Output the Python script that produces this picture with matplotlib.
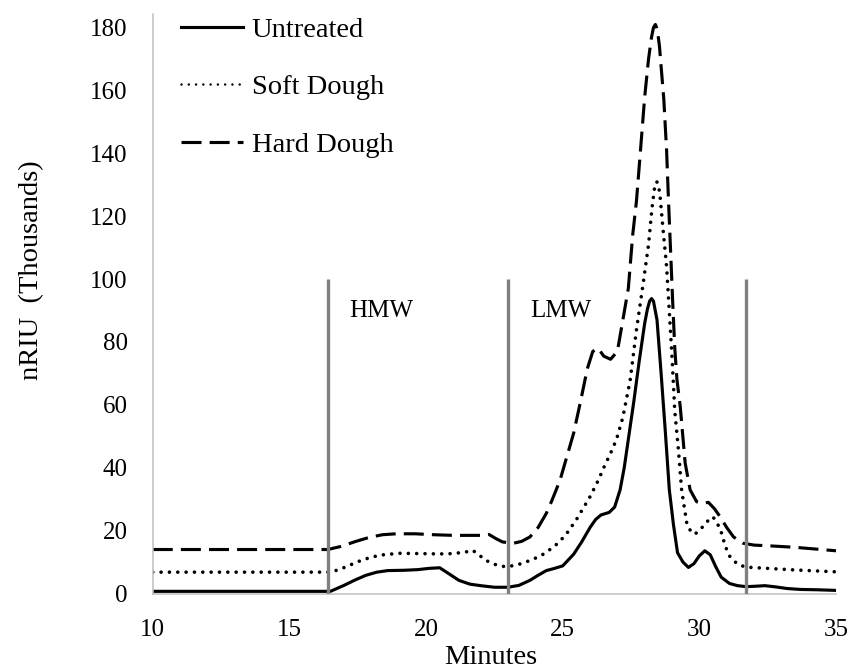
import numpy as np
import matplotlib
matplotlib.use("Agg")
import matplotlib.pyplot as plt
from matplotlib.lines import Line2D

plt.rcParams['font.family'] = ['Liberation Serif', 'DejaVu Serif']

# Untreated (solid)
untreated_x = [10, 12, 14, 16, 16.5, 17.0, 17.4, 17.8, 18.2, 18.6, 19.2, 19.7, 20.1, 20.5,
               20.8, 21.2, 21.6, 22.0, 22.5, 23.0, 23.4, 23.8, 24.1, 24.4, 24.7, 25.0, 25.4,
               25.7, 26.0, 26.2, 26.4, 26.7, 26.9, 27.1, 27.25, 27.4, 27.6, 27.8, 28.0, 28.1,
               28.18, 28.25, 28.32, 28.45, 28.6, 28.75, 28.9, 29.05, 29.2, 29.4, 29.6, 29.8,
               30.0, 30.2, 30.4, 30.6, 30.8, 31.1, 31.4, 31.7, 32.0, 32.4, 32.8, 33.2, 33.7,
               34.3, 35.0]
untreated_y = [0.7, 0.7, 0.7, 0.7, 0.7, 2.6, 4.3, 5.8, 6.8, 7.3, 7.4, 7.6, 8.0, 8.2,
               6.5, 4.2, 3.0, 2.5, 2.0, 2.0, 2.6, 4.2, 5.8, 7.3, 8.0, 8.8, 12.5,
               16.5, 21, 23.5, 25, 25.8, 27.5, 33, 40, 49, 61, 74, 86, 90.5,
               93, 93.8, 93, 87, 70, 52, 33, 22, 13, 10, 8.3, 9.5,
               12, 13.6, 12.3, 8.5, 5.2, 3.2, 2.5, 2.2, 2.3, 2.5, 2.1, 1.6, 1.3,
               1.2, 1.0]

# Soft Dough (dotted)
soft_x = [10, 13, 16.4, 16.8, 17.2, 17.7, 18.3, 19.0, 19.8, 20.5, 21.0, 21.5, 21.7, 21.9,
          22.2, 22.5, 22.9, 23.3, 23.8, 24.2, 24.7, 25.1, 25.5, 26.0, 26.3, 26.5, 26.85,
          27.0, 27.2, 27.47, 27.7, 27.95, 28.14, 28.26, 28.35, 28.44, 28.5, 28.56, 28.68,
          28.8, 28.87, 29.0, 29.1, 29.23, 29.35, 29.54, 29.7, 29.84, 30.05, 30.27, 30.5,
          30.76, 30.95, 31.12, 31.4, 31.7, 32.5, 33.5, 35.0]
soft_y = [6.8, 6.8, 6.8, 7.5, 9.0, 10.8, 12.2, 12.8, 12.7, 12.6, 12.7, 13.3, 13.8, 12.5,
          10.5, 9.3, 8.5, 9.0, 10.5, 12.0, 15, 18.5, 23.5, 30.8, 36, 40, 46.5,
          50, 56, 68, 84, 99, 111, 122, 128.5, 131, 130, 126.5, 115,
          104, 94, 75, 58, 46, 33, 22.3, 19.5, 18.9, 20.5, 22.8, 24.4,
          20.7, 15, 11.7, 9.3, 8.4, 8.0, 7.5, 6.9]

# Hard Dough (dashed)
hard_x = [10, 13, 16.4, 16.9, 17.4, 17.9, 18.4, 18.9, 19.6, 20.3, 21.0, 21.6, 22.1, 22.3,
          22.55, 22.8, 23.2, 23.5, 23.8, 24.1, 24.4, 24.6, 24.9, 25.15, 25.4, 25.65, 25.9,
          26.1, 26.3, 26.5, 26.75, 27.0, 27.2, 27.4, 27.56, 27.7, 27.8, 27.9, 28.0, 28.14,
          28.25, 28.32, 28.39, 28.46, 28.54, 28.7, 28.8, 28.87, 28.97, 29.02, 29.1, 29.18,
          29.3, 29.48, 29.66, 29.9, 30.1, 30.33, 30.55, 30.76, 31.0, 31.25, 31.6, 32.0,
          32.5, 33.5, 35.0]
hard_y = [14, 14, 14, 15, 16.5, 17.8, 18.7, 19.0, 19.0, 18.7, 18.5, 18.5, 18.5, 18.8,
          17.5, 16.4, 16.0, 16.6, 18, 21, 25.5, 29.5, 36, 43.5, 51, 61, 71.5,
          77, 78, 75.5, 74.5, 77, 87, 97, 114, 125, 136, 147, 158, 170,
          177, 180, 181, 179.5, 174, 157, 141, 125, 104, 93.4, 78, 68,
          59.4, 41.5, 33, 29.2, 28.7, 29, 27, 24.4, 21, 18, 16, 15.4,
          15.2, 14.7, 13.6]

region_bounds = [16.4, 23.0, 31.7]
region_top = 100
region_labels = ["HMW", "LMW"]
region_label_x = [17.2, 23.8]
region_label_y = 90

fig = plt.figure(figsize=(8.48, 6.69), dpi=100)
ax = fig.add_axes([0.1801, 0.1128, 0.8058, 0.8662])

lw = 2.25
ax.plot(untreated_x, untreated_y, color='black', lw=lw, solid_joinstyle='round')
ax.plot(soft_x, soft_y, color='black', lw=2.6, dashes=(0.01, 2.3), dash_capstyle='round')
ax.plot(hard_x, hard_y, color='black', lw=lw, dashes=(6.4, 2.6))

ax.vlines(region_bounds, 0, region_top, color='#808080', lw=2.4, zorder=5)
for lab, lx in zip(region_labels, region_label_x):
    ax.text(lx, region_label_y, lab, fontsize=18, ha='left', va='center')

ax.set_xlim(10, 35)
ax.set_ylim(0, 184.3)
ax.set_xticks(np.arange(10, 36, 5))
ax.set_yticks(np.arange(0, 181, 20))
ax.tick_params(length=0, labelsize=18, pad=18)

for s in ['top', 'right']:
    ax.spines[s].set_visible(False)
for s in ['left', 'bottom']:
    ax.spines[s].set_color('#bfbfbf')
    ax.spines[s].set_linewidth(1.1)

ax.text(0.495, -0.1096, "Minutes", transform=ax.transAxes, fontsize=20.5,
        ha='center', va='center')
ax.text(-0.1766, 0.558, "nRIU  (Thousands)", transform=ax.transAxes, fontsize=20.5,
        ha='center', va='center', rotation=90)

handles = [
    Line2D([], [], color='black', lw=lw),
    Line2D([], [], color='black', lw=1.8, dashes=(0.01, 2.9), dash_capstyle='round'),
    Line2D([], [], color='black', lw=lw, dashes=(6.4, 2.6)),
]
ax.legend(handles, ["Untreated", "Soft Dough", "Hard Dough"], loc='upper left',
          bbox_to_anchor=(0.042, 0.995), frameon=False, fontsize=20.5,
          handlelength=2.17, handletextpad=0.3, labelspacing=1.11,
          borderpad=0, borderaxespad=0)

fig.savefig("out.png", dpi=100)
